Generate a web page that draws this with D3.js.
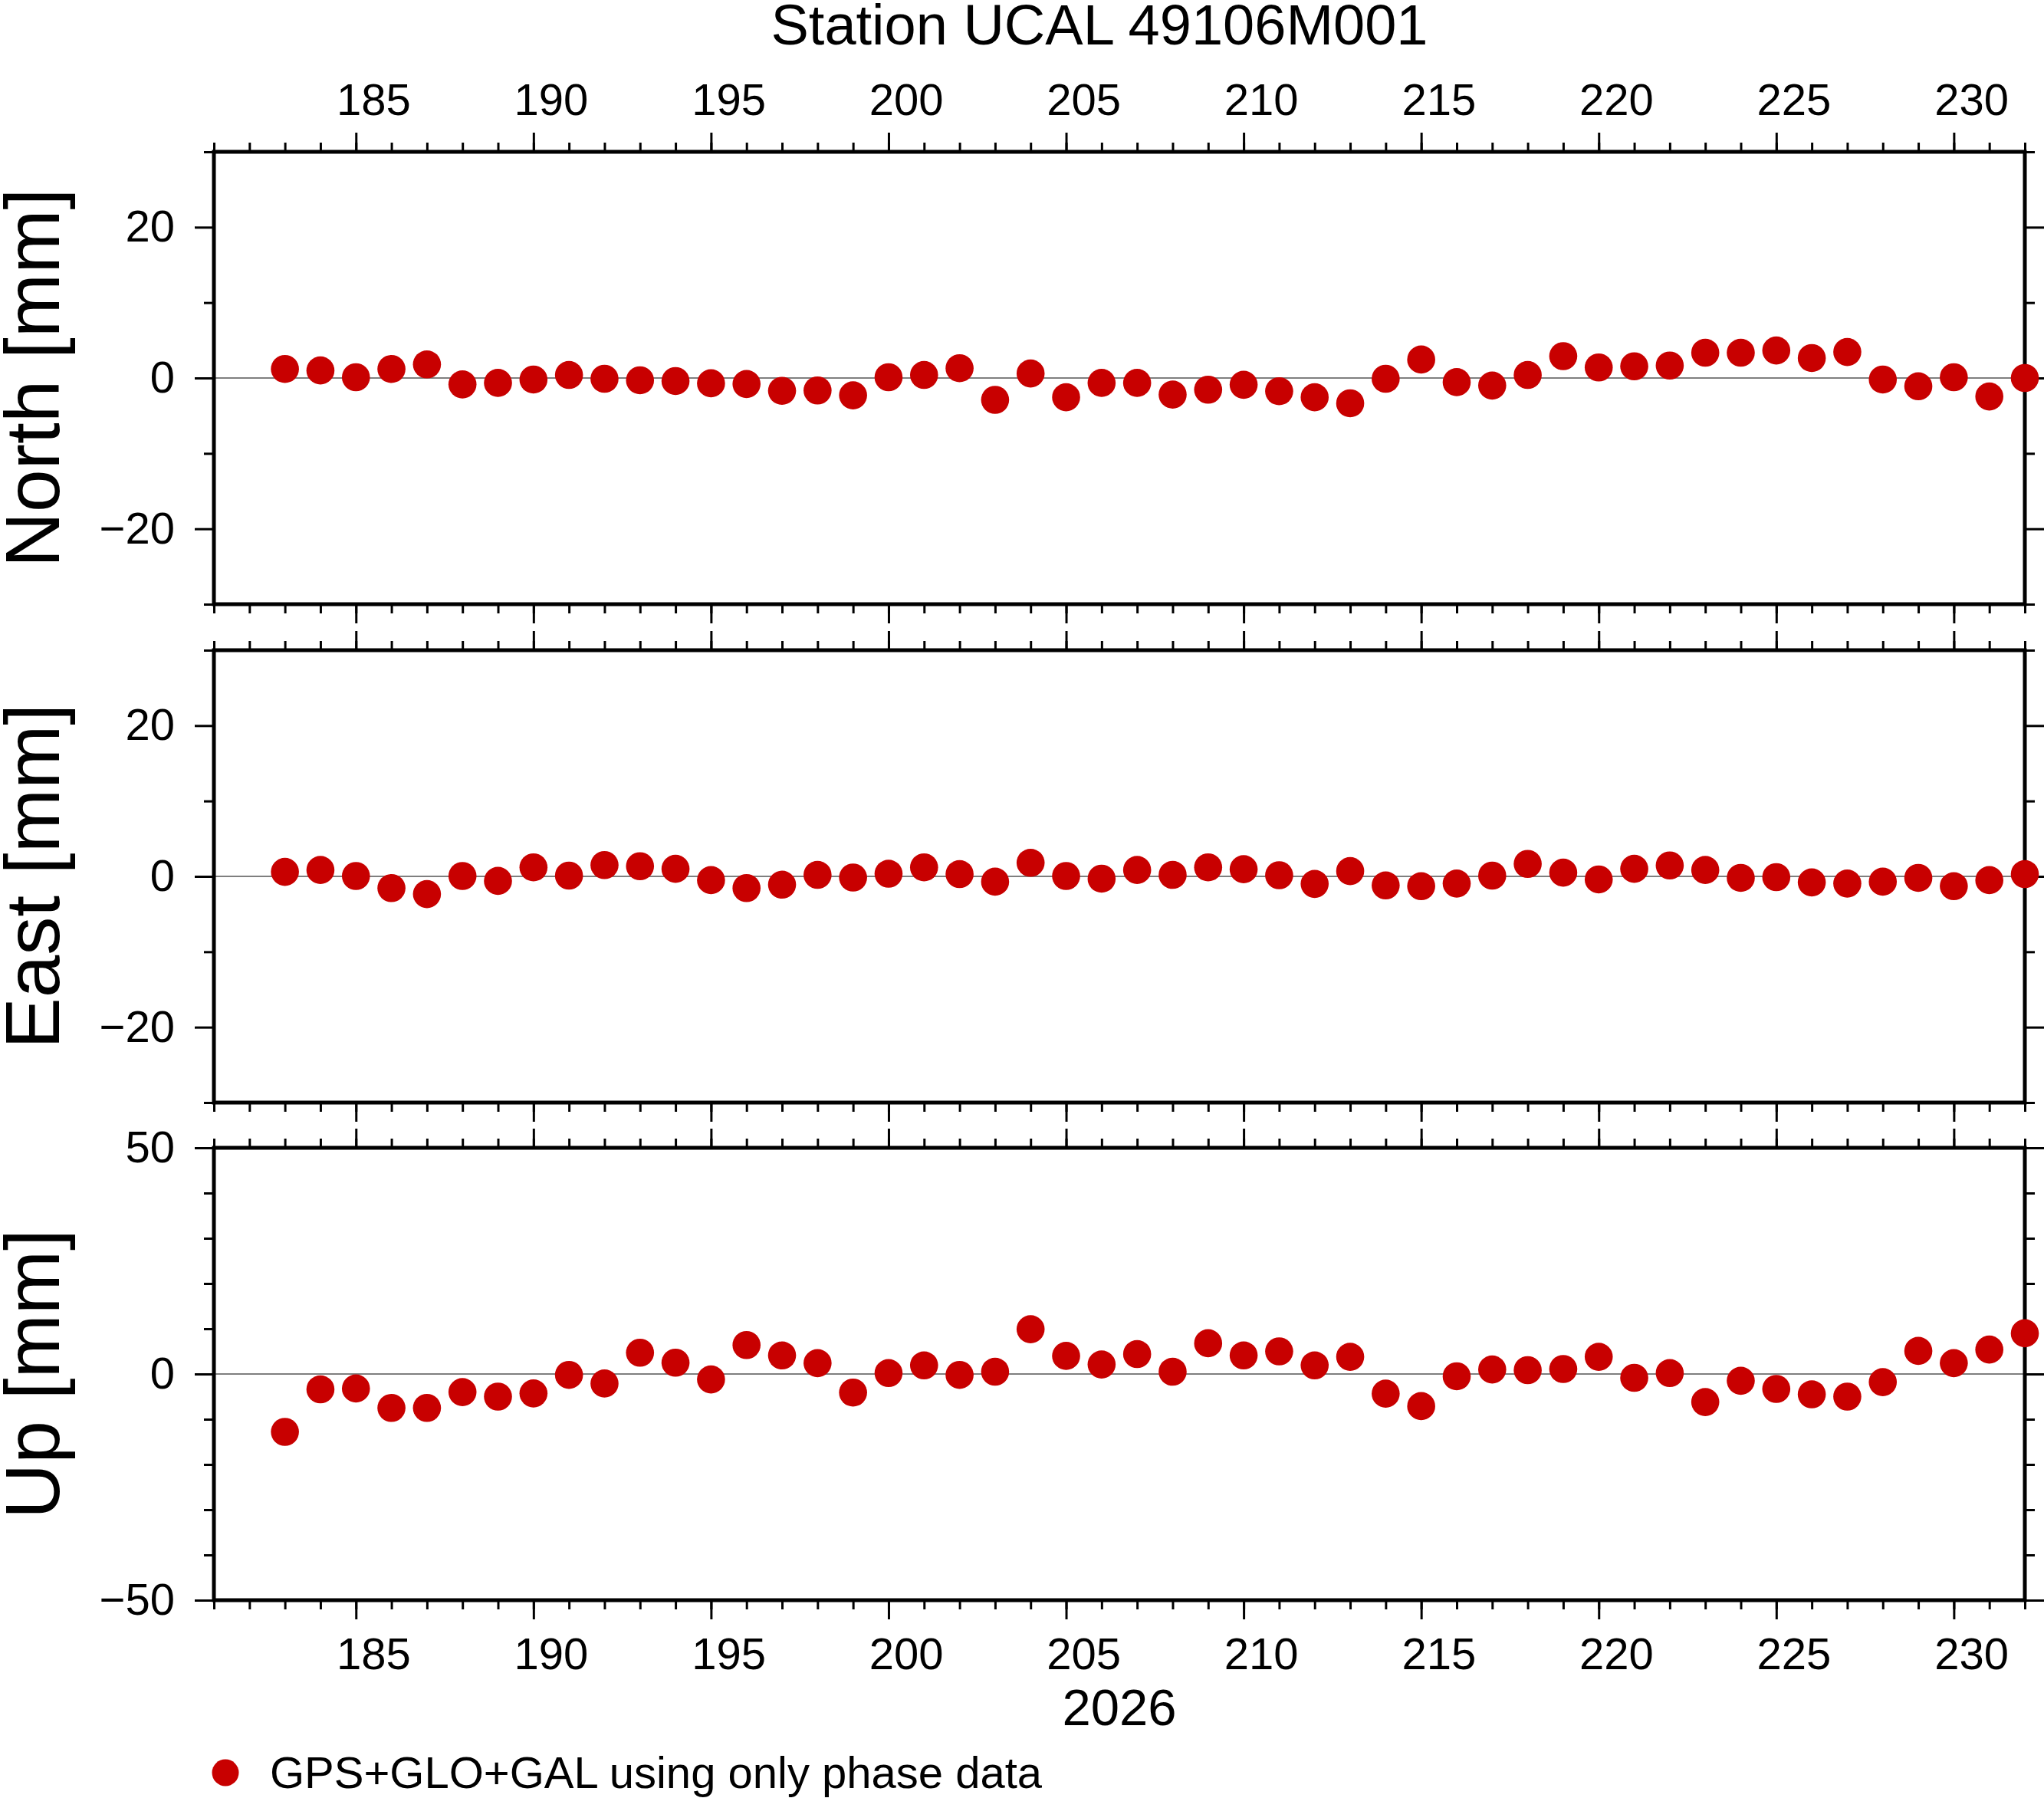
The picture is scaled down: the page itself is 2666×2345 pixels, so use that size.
<!DOCTYPE html>
<html>
<head>
<meta charset="utf-8">
<script src="https://cdn.jsdelivr.net/npm/d3@7"></script>
<style>
  html, body { margin: 0; padding: 0; background: #fff; }
  svg { display: block; }
</style>
</head>
<body>
<div id="chart"></div>
<script>
// Chart texts
const titleText = "Station UCAL 49106M001";
const yearText = "2026";
const legendText = "GPS+GLO+GAL using only phase data";

// Day of year of each daily solution
const days = [183, 184, 185, 186, 187, 188, 189, 190, 191, 192,
              193, 194, 195, 196, 197, 198, 199, 200, 201, 202,
              203, 204, 205, 206, 207, 208, 209, 210, 211, 212,
              213, 214, 215, 216, 217, 218, 219, 220, 221, 222,
              223, 224, 225, 226, 227, 228, 229, 230, 231, 232];

// Residuals in mm
const north = [1.2, 1.0, 0.1, 1.2, 1.8, -0.85, -0.65, -0.2, 0.4, -0.1,
               -0.3, -0.4, -0.7, -0.8, -1.7, -1.65, -2.3, 0.1, 0.4, 1.3,
               -2.9, 0.6, -2.55, -0.65, -0.65, -2.2, -1.55, -0.9, -1.75, -2.55,
               -3.35, -0.1, 2.45, -0.55, -1.0, 0.4, 2.9, 1.4, 1.55, 1.65,
               3.35, 3.35, 3.65, 2.65, 3.45, -0.2, -1.1, 0.1, -2.45, 0.0];

const east = [0.6, 0.85, 0.05, -1.55, -2.35, 0.05, -0.6, 1.2, 0.1, 1.5,
              1.35, 1.0, -0.5, -1.55, -1.1, 0.2, -0.15, 0.35, 1.2, 0.3,
              -0.7, 1.8, 0.05, -0.3, 0.85, 0.2, 1.2, 0.95, 0.15, -1.0,
              0.7, -1.2, -1.3, -0.95, 0.1, 1.65, 0.5, -0.4, 1.0, 1.45,
              0.85, -0.2, -0.1, -0.8, -0.95, -0.7, -0.2, -1.3, -0.5, 0.3];

const up = [-12.8, -3.4, -3.2, -7.5, -7.5, -4.0, -5.0, -4.3, -0.2, -2.1,
            4.7, 2.5, -1.2, 6.4, 4.1, 2.4, -4.1, 0.2, 1.9, -0.2,
            0.5, 9.9, 4.0, 2.1, 4.4, 0.5, 6.8, 4.1, 5.0, 1.9,
            3.8, -4.35, -7.1, -0.5, 1.0, 0.85, 1.1, 3.8, -0.85, 0.2,
            -6.2, -1.5, -3.3, -4.5, -5.0, -1.8, 5.1, 2.4, 5.4, 9.0];

// Axis settings
const dayDomain = [181, 232];
const dayLabels = [185, 190, 195, 200, 205, 210, 215, 220, 225, 230];
const neDomain = [-30, 30];
const neMajor = [-20, 0, 20];
const neMinor = [-30, -10, 10, 30];
const upDomain = [-50, 50];
const upMajor = [-50, 0, 50];
const upMinor = [-40, -30, -20, -10, 10, 20, 30, 40];

const width = 2666, height = 2345;
const plotLeft = 279, plotRight = 2641;
const panelHeight = 590;
const font = "'Liberation Sans', Arial, Helvetica, sans-serif";
const dotColor = "#c80000";

const panels = [
    { label: "North [mm]", values: north, top: 198, domain: neDomain, major: neMajor, minor: neMinor },
    { label: "East [mm]", values: east, top: 848, domain: neDomain, major: neMajor, minor: neMinor },
    { label: "Up [mm]", values: up, top: 1497, domain: upDomain, major: upMajor, minor: upMinor }
];

const svg = d3.select("#chart").append("svg")
    .attr("width", width)
    .attr("height", height)
    .attr("viewBox", `0 0 ${width} ${height}`)
    .style("font-family", font);

const x = d3.scaleLinear().domain(dayDomain).range([plotLeft, plotRight]);

const allDays = d3.range(dayDomain[0], dayDomain[1] + 1);
const majorDays = allDays.filter(d => d % 5 === 0);

// style helper for axis groups
function styleAxis(g, stroke) {
    g.select(".domain").remove();
    g.selectAll(".tick line").attr("stroke", "#000").attr("stroke-width", stroke);
}

panels.forEach(p => {
    const y = d3.scaleLinear().domain(p.domain).range([p.top + panelHeight, p.top]);
    const g = svg.append("g");

    // x ticks on top and bottom edges
    [[d3.axisTop, p.top], [d3.axisBottom, p.top + panelHeight]].forEach(([axisFn, yy]) => {
        g.append("g")
            .attr("transform", `translate(0,${yy})`)
            .call(axisFn(x).tickValues(allDays).tickSize(12).tickFormat(""))
            .call(a => styleAxis(a, 3));
        g.append("g")
            .attr("transform", `translate(0,${yy})`)
            .call(axisFn(x).tickValues(majorDays).tickSize(25).tickFormat(""))
            .call(a => styleAxis(a, 3));
    });

    // y ticks left (labelled) and right
    g.append("g")
        .attr("transform", `translate(${plotLeft},0)`)
        .call(d3.axisLeft(y).tickValues(p.minor).tickSize(13).tickFormat(""))
        .call(a => styleAxis(a, 3));
    g.append("g")
        .attr("transform", `translate(${plotLeft},0)`)
        .call(d3.axisLeft(y).tickValues(p.major).tickSize(25).tickPadding(26).tickFormat(d3.format("d")))
        .call(a => styleAxis(a, 3))
        .call(a => a.selectAll("text")
            .attr("font-size", 58)
            .attr("font-family", font)
            .attr("fill", "#000"));
    g.append("g")
        .attr("transform", `translate(${plotRight},0)`)
        .call(d3.axisRight(y).tickValues(p.minor).tickSize(13).tickFormat(""))
        .call(a => styleAxis(a, 3));
    g.append("g")
        .attr("transform", `translate(${plotRight},0)`)
        .call(d3.axisRight(y).tickValues(p.major).tickSize(25).tickFormat(""))
        .call(a => styleAxis(a, 3));

    // zero line
    g.append("line")
        .attr("x1", plotLeft).attr("x2", plotRight)
        .attr("y1", y(0)).attr("y2", y(0))
        .attr("stroke", "#000")
        .attr("stroke-width", 1.2);

    // frame
    g.append("rect")
        .attr("x", plotLeft).attr("y", p.top)
        .attr("width", plotRight - plotLeft).attr("height", panelHeight)
        .attr("fill", "none")
        .attr("stroke", "#000")
        .attr("stroke-width", 5);

    // y axis label
    g.append("text")
        .attr("transform", `translate(77,${p.top + panelHeight / 2}) rotate(-90)`)
        .attr("text-anchor", "middle")
        .attr("font-size", 100)
        .text(p.label);

    // data points
    g.append("g")
        .selectAll("circle")
        .data(days.map((d, i) => ({ day: d, value: p.values[i] })))
        .enter()
        .append("circle")
        .attr("cx", d => x(d.day))
        .attr("cy", d => y(d.value))
        .attr("r", 18.3)
        .attr("fill", dotColor);
});

// day-of-year annotations, centred on each day interval
const topLabelY = 150, bottomLabelY = 2177;
[topLabelY, bottomLabelY].forEach(yy => {
    svg.append("g")
        .selectAll("text")
        .data(dayLabels)
        .enter()
        .append("text")
        .attr("x", d => x(d + 0.5))
        .attr("y", yy)
        .attr("text-anchor", "middle")
        .attr("font-size", 58)
        .text(d => d);
});

// title
svg.append("text")
    .attr("x", 1434)
    .attr("y", 58)
    .attr("text-anchor", "middle")
    .attr("font-size", 74)
    .text(titleText);

// year label
svg.append("text")
    .attr("x", (plotLeft + plotRight) / 2)
    .attr("y", 2250)
    .attr("text-anchor", "middle")
    .attr("font-size", 67)
    .text(yearText);

// legend
svg.append("circle")
    .attr("cx", 294)
    .attr("cy", 2312)
    .attr("r", 17.5)
    .attr("fill", dotColor);
svg.append("text")
    .attr("x", 352)
    .attr("y", 2332)
    .attr("font-size", 58)
    .text(legendText);
</script>
</body>
</html>
